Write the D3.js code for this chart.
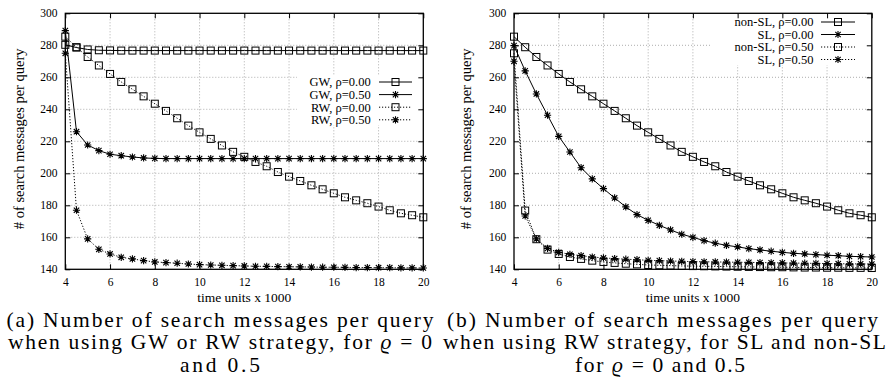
<!DOCTYPE html>
<html><head><meta charset="utf-8">
<script src="https://cdn.jsdelivr.net/npm/d3@7"></script>
<style>
body{margin:0;background:#fff}
svg{display:block}
text{font-family:"Liberation Serif","Times New Roman",serif;fill:#000}
</style>
</head><body>
<svg id="c" width="890" height="388"></svg>
<script>
// ---------- data ----------
const timeUnits = [4,4.5,5,5.5,6,6.5,7,7.5,8,8.5,9,9.5,10,10.5,11,11.5,12,12.5,13,13.5,14,14.5,15,15.5,16,16.5,17,17.5,18,18.5,19,19.5,20];
const xTickValues = [4,6,8,10,12,14,16,18,20];
const yTickValues = [140,160,180,200,220,240,260,280,300];

// panel (a)
const gwRho000 = [280.3,278.6,277.4,276.9,276.8,276.7,276.7,276.7,276.7,276.7,276.7,276.7,276.7,276.7,276.7,276.7,276.7,276.7,276.7,276.7,276.7,276.7,276.7,276.7,276.7,276.7,276.7,276.7,276.7,276.7,276.7,276.7,276.7];
const gwRho050 = [289.2,226.0,217.7,214.2,211.9,211.0,210.2,209.6,209.3,209.2,209.2,209.2,209.2,209.2,209.2,209.2,209.2,209.2,209.2,209.2,209.2,209.2,209.2,209.2,209.2,209.2,209.2,209.2,209.2,209.2,209.2,209.2,209.2];
const rwRho000 = [285.4,278.8,272.7,267.4,262.1,257.1,252.5,248.1,243.5,239.0,234.4,229.8,225.6,221.5,217.4,213.4,210.3,207.1,204.4,200.8,197.9,195.2,192.5,190.0,187.5,185.0,183.1,181.3,179.2,176.9,175.0,173.8,172.5];
const rwRho050 = [275.0,176.9,159.0,152.5,149.6,147.5,146.5,145.4,144.6,144.2,143.8,143.3,142.9,142.7,142.5,142.3,142.1,141.9,141.8,141.7,141.6,141.5,141.4,141.3,141.3,141.2,141.1,141.1,141.0,141.0,140.9,140.9,140.8];

// panel (b)
const nonSLRho000 = [285.4,278.8,272.7,267.4,262.1,257.1,252.5,248.1,243.5,239.0,234.4,229.8,225.6,221.5,217.4,213.4,210.3,207.1,204.4,200.8,197.9,195.2,192.5,190.0,187.5,185.0,183.1,181.3,179.2,176.9,175.0,173.8,172.5];
const slRho000 = [279.8,264.0,249.6,236.3,223.1,213.3,203.5,196.5,190.4,184.6,179.0,174.2,170.6,167.5,164.6,161.9,160.0,157.9,156.3,155.0,154.0,152.9,152.1,151.3,150.6,150.0,149.6,149.2,148.8,148.5,148.1,147.9,147.7];
const nonSLRho050 = [275.0,176.7,158.8,152.3,149.6,147.7,146.5,145.4,144.6,144.0,143.5,143.1,142.7,142.5,142.3,142.1,142.0,141.9,141.8,141.7,141.6,141.5,141.4,141.3,141.3,141.2,141.1,141.1,141.0,141.0,140.9,140.9,140.8];
const slRho050 = [270.0,173.3,159.0,153.1,150.6,149.4,148.5,147.7,147.1,146.7,146.3,146.0,145.6,145.4,145.2,145.0,144.8,144.7,144.6,144.5,144.4,144.3,144.2,144.1,144.0,143.9,143.8,143.7,143.6,143.5,143.4,143.4,143.3];

const labelsA = ["GW, ρ=0.00","GW, ρ=0.50","RW, ρ=0.00","RW, ρ=0.50"];
const labelsB = ["non-SL, ρ=0.00","SL, ρ=0.00","non-SL, ρ=0.50","SL, ρ=0.50"];
const xAxisTitle = "time units x 1000";
const yAxisTitle = "# of search messages per query";
const captionA = ["(a) Number of search messages per query","when using GW or RW strategy, for |ϱ| = 0","and 0.5"];
const captionB = ["(b) Number of search messages per query","when using RW strategy, for SL and non-SL","for |ϱ| = 0 and 0.5"];

// ---------- layout ----------
const svg = d3.select("#c");
const plotTop = 13.3, plotBottom = 269.3;

const panels = [
  {left:65.3, right:423.3, values:[gwRho000,gwRho050,rwRho000,rwRho050], labels:labelsA,
   styles:[["square","solid"],["star","solid"],["square","dot"],["star","dot"]],
   legend:{textX:370.7, x0:379, x1:412, rows:[82,94.6,107.2,119.8], mask:[297,76,421.5,125]},
   ylabX:19, caption:captionA, capX:[220,220,220], capW:[427,424,80]},
  {left:514, right:871.8, values:[nonSLRho000,slRho000,nonSLRho050,slRho050], labels:labelsB,
   styles:[["square","solid"],["star","solid"],["square","dot"],["star","dot"]],
   legend:{textX:813.5, x0:821, x1:855, rows:[22,34.5,47,59.5], mask:[712,14.5,870.5,65]},
   ylabX:465.5, caption:captionB, capX:[662.5,664.5,660], capW:[431,443,170]}
];

function marker(g, type, cx, cy){
  if(type==="square"){
    g.append("rect").attr("x",cx-3.5).attr("y",cy-3.5).attr("width",7).attr("height",7)
      .attr("fill","none").attr("stroke","#000").attr("stroke-width",1);
  } else {
    g.append("path").attr("transform",`translate(${cx},${cy})`)
      .attr("d","M-3.6,0H3.6M0,-3.6V3.6M-2.7,-2.7L2.7,2.7M-2.7,2.7L2.7,-2.7")
      .attr("stroke","#000").attr("stroke-width",1.1).attr("fill","none");
  }
}

panels.forEach(p=>{
  const x = d3.scaleLinear().domain([4,20]).range([p.left,p.right]);
  const y = d3.scaleLinear().domain([140,300]).range([plotBottom,plotTop]);
  const g = svg.append("g");

  // grid
  const grid = g.append("g").attr("stroke","#999").attr("stroke-width",0.8).attr("stroke-dasharray","1,2");
  xTickValues.slice(1,-1).forEach(v=>grid.append("line").attr("x1",x(v)).attr("x2",x(v)).attr("y1",plotTop).attr("y2",plotBottom));
  yTickValues.slice(1,-1).forEach(v=>grid.append("line").attr("x1",p.left).attr("x2",p.right).attr("y1",y(v)).attr("y2",y(v)));

  // key mask
  const m = p.legend.mask;
  g.append("rect").attr("x",m[0]).attr("y",m[1]).attr("width",m[2]-m[0]).attr("height",m[3]-m[1]).attr("fill","#fff");

  // axes (inward ticks, mirrored)
  const ax = [
    g.append("g").attr("transform",`translate(0,${plotBottom})`).call(d3.axisBottom(x).tickValues(xTickValues).tickSizeInner(-5).tickSizeOuter(0).tickPadding(9).tickFormat(d3.format("d"))),
    g.append("g").attr("transform",`translate(${p.left},0)`).call(d3.axisLeft(y).tickValues(yTickValues).tickSizeInner(-5).tickSizeOuter(0).tickPadding(7.8).tickFormat(d3.format("d"))),
    g.append("g").attr("transform",`translate(0,${plotTop})`).call(d3.axisTop(x).tickValues(xTickValues).tickSizeInner(-5).tickSizeOuter(0).tickFormat("")),
    g.append("g").attr("transform",`translate(${p.right},0)`).call(d3.axisRight(y).tickValues(yTickValues).tickSizeInner(-5).tickSizeOuter(0).tickFormat(""))
  ];
  ax.forEach(a=>{
    a.select(".domain").remove();
    a.selectAll("line").attr("stroke","#000").attr("stroke-width",1);
    a.selectAll("text").attr("font-size","11.5px").attr("font-family","Liberation Serif, serif").attr("fill","#000");
  });

  // border
  g.append("rect").attr("x",p.left).attr("y",plotTop).attr("width",p.right-p.left).attr("height",plotBottom-plotTop)
    .attr("fill","none").attr("stroke","#000").attr("stroke-width",1.3);

  // series
  const line = d3.line().x((d,i)=>x(timeUnits[i])).y(d=>y(d));
  p.values.forEach((vals,k)=>{
    const [mk,ls] = p.styles[k];
    g.append("path").datum(vals).attr("d",line).attr("fill","none").attr("stroke","#000")
      .attr("stroke-width",1).attr("stroke-dasharray", ls==="dot" ? "1.2,1.8" : null);
    const mg = g.append("g");
    vals.forEach((v,i)=>marker(mg, mk, x(timeUnits[i]), y(v)));
  });

  // legend
  p.labels.forEach((lab,k)=>{
    const ry = p.legend.rows[k];
    const [mk,ls] = p.styles[k];
    g.append("text").attr("x",p.legend.textX).attr("y",ry).attr("dy","0.35em")
      .attr("text-anchor","end").attr("font-size","12.5px").text(lab);
    g.append("line").attr("x1",p.legend.x0).attr("x2",p.legend.x1).attr("y1",ry).attr("y2",ry)
      .attr("stroke","#000").attr("stroke-width",1).attr("stroke-dasharray", ls==="dot" ? "1.2,1.8" : null);
    marker(g, mk, (p.legend.x0+p.legend.x1)/2, ry);
  });

  // axis titles
  g.append("text").attr("x",(p.left+p.right)/2).attr("y",302).attr("text-anchor","middle")
    .attr("font-size","13.5px").text(xAxisTitle);
  g.append("text").attr("transform",`translate(${p.ylabX},${(plotTop+plotBottom)/2-2.5}) rotate(-90)`)
    .attr("text-anchor","middle").attr("dy","0.35em").attr("font-size","14.5px").text(yAxisTitle);

  // caption
  const capY = [327.3,349.3,371.7];
  p.caption.forEach((ln,i)=>{
    const t = g.append("text").attr("x",p.capX[i]).attr("y",capY[i]).attr("text-anchor","middle")
      .attr("font-size","21.5px").attr("textLength",p.capW[i]).attr("lengthAdjust","spacing");
    ln.split("|").forEach((part,j)=>{
      const ts = t.append("tspan").text(part);
      if(j===1) ts.attr("font-style","italic");
    });
  });
});
</script>
</body></html>
